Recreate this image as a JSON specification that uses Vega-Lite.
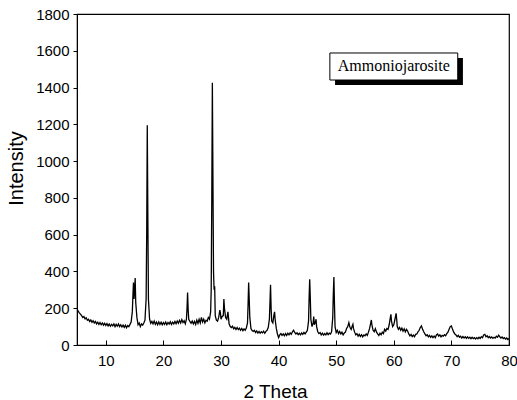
{
  "$schema": "https://vega.github.io/schema/vega-lite/v6.json",
  "autosize": {"type": "none"},
  "padding": {"left": 77, "top": 14, "right": 8, "bottom": 55},
  "width": 432,
  "height": 331,
  "background": "white",
  "config": {
    "view": {"stroke": "black", "strokeWidth": 1.2},
    "axis": {"domainColor": "black", "tickColor": "black", "labelColor": "black", "titleColor": "black", "labelFont": "Liberation Sans", "titleFont": "Liberation Sans", "grid": false, "labelFontSize": 15, "titleFontWeight": "normal", "titleFontSize": 19, "labelOverlap": false, "labelFlush": false, "labelBound": false},
    "axisX": {"tickCount": 8, "tickSize": -5, "labelPadding": 13, "format": "d", "titleX": 198, "titleY": 52, "titleBaseline": "alphabetic", "titleAnchor": "middle"},
    "axisY": {"tickCount": 9, "tickSize": 4, "labelPadding": 4, "format": "d", "titleX": -55, "titleY": 154, "titleBaseline": "alphabetic", "titleAnchor": "middle", "titleFontSize": 20, "labelOverlap": false}
  },
  "datasets": {
    "xrd": [
      {"t":5.0,"i":195},{"t":5.2,"i":185},{"t":5.4,"i":175},{"t":5.6,"i":168},{"t":5.8,"i":160},{"t":6.0,"i":150},{"t":6.2,"i":155},{"t":6.4,"i":142},{"t":6.6,"i":148},{"t":6.8,"i":135},
      {"t":7.0,"i":140},{"t":7.2,"i":128},{"t":7.4,"i":136},{"t":7.6,"i":124},{"t":7.8,"i":132},{"t":8.0,"i":120},{"t":8.2,"i":128},{"t":8.4,"i":115},{"t":8.6,"i":124},{"t":8.8,"i":112},
      {"t":9.0,"i":122},{"t":9.2,"i":110},{"t":9.4,"i":120},{"t":9.6,"i":108},{"t":9.8,"i":118},{"t":10.0,"i":106},{"t":10.2,"i":116},{"t":10.4,"i":104},{"t":10.6,"i":114},{"t":10.8,"i":102},
      {"t":11.0,"i":112},{"t":11.2,"i":104},{"t":11.4,"i":115},{"t":11.6,"i":100},{"t":11.8,"i":112},{"t":12.0,"i":102},{"t":12.2,"i":114},{"t":12.4,"i":100},{"t":12.6,"i":110},{"t":12.8,"i":98},
      {"t":13.0,"i":108},{"t":13.2,"i":96},{"t":13.4,"i":108},{"t":13.6,"i":94},{"t":13.8,"i":106},{"t":14.0,"i":100},{"t":14.2,"i":112},{"t":14.4,"i":125},{"t":14.6,"i":180},{"t":14.7,"i":260},
      {"t":14.8,"i":340},{"t":14.9,"i":250},{"t":15.0,"i":300},{"t":15.1,"i":364},{"t":15.2,"i":230},{"t":15.4,"i":150},{"t":15.6,"i":110},{"t":15.8,"i":120},{"t":16.0,"i":100},{"t":16.2,"i":115},
      {"t":16.4,"i":108},{"t":16.6,"i":120},{"t":16.8,"i":135},{"t":17.0,"i":250},{"t":17.1,"i":600},{"t":17.2,"i":1195},{"t":17.3,"i":700},{"t":17.4,"i":250},{"t":17.6,"i":140},{"t":17.8,"i":118},
      {"t":18.0,"i":128},{"t":18.2,"i":115},{"t":18.4,"i":130},{"t":18.6,"i":112},{"t":18.8,"i":125},{"t":19.0,"i":110},{"t":19.2,"i":126},{"t":19.4,"i":112},{"t":19.6,"i":124},{"t":19.8,"i":110},
      {"t":20.0,"i":122},{"t":20.2,"i":112},{"t":20.4,"i":125},{"t":20.6,"i":110},{"t":20.8,"i":122},{"t":21.0,"i":114},{"t":21.2,"i":126},{"t":21.4,"i":112},{"t":21.6,"i":124},{"t":21.8,"i":115},
      {"t":22.0,"i":128},{"t":22.2,"i":116},{"t":22.4,"i":130},{"t":22.6,"i":118},{"t":22.8,"i":134},{"t":23.0,"i":120},{"t":23.2,"i":138},{"t":23.4,"i":122},{"t":23.6,"i":132},{"t":23.8,"i":115},
      {"t":24.0,"i":140},{"t":24.1,"i":200},{"t":24.2,"i":285},{"t":24.3,"i":190},{"t":24.4,"i":140},{"t":24.6,"i":128},{"t":24.8,"i":118},{"t":25.0,"i":130},{"t":25.2,"i":115},{"t":25.4,"i":128},
      {"t":25.6,"i":112},{"t":25.8,"i":135},{"t":26.0,"i":118},{"t":26.2,"i":140},{"t":26.4,"i":120},{"t":26.6,"i":150},{"t":26.8,"i":125},{"t":27.0,"i":140},{"t":27.2,"i":120},{"t":27.4,"i":135},
      {"t":27.6,"i":130},{"t":27.8,"i":150},{"t":28.0,"i":140},{"t":28.2,"i":180},{"t":28.3,"i":300},{"t":28.4,"i":800},{"t":28.5,"i":1426},{"t":28.6,"i":900},{"t":28.7,"i":400},{"t":28.8,"i":300},
      {"t":28.9,"i":320},{"t":29.0,"i":160},{"t":29.2,"i":135},{"t":29.4,"i":130},{"t":29.6,"i":150},{"t":29.8,"i":190},{"t":29.9,"i":175},{"t":30.0,"i":140},{"t":30.2,"i":155},{"t":30.4,"i":160},
      {"t":30.5,"i":250},{"t":30.6,"i":200},{"t":30.8,"i":150},{"t":31.0,"i":140},{"t":31.2,"i":180},{"t":31.3,"i":150},{"t":31.4,"i":115},{"t":31.6,"i":100},{"t":31.8,"i":95},{"t":32.0,"i":102},
      {"t":32.2,"i":88},{"t":32.4,"i":96},{"t":32.6,"i":85},{"t":32.8,"i":95},{"t":33.0,"i":84},{"t":33.2,"i":92},{"t":33.4,"i":80},{"t":33.6,"i":90},{"t":33.8,"i":78},{"t":34.0,"i":88},
      {"t":34.2,"i":80},{"t":34.4,"i":92},{"t":34.6,"i":120},{"t":34.7,"i":220},{"t":34.8,"i":340},{"t":34.9,"i":250},{"t":35.0,"i":150},{"t":35.2,"i":90},{"t":35.4,"i":78},{"t":35.6,"i":74},
      {"t":35.8,"i":80},{"t":36.0,"i":68},{"t":36.2,"i":76},{"t":36.4,"i":65},{"t":36.6,"i":74},{"t":36.8,"i":64},{"t":37.0,"i":72},{"t":37.2,"i":66},{"t":37.4,"i":75},{"t":37.6,"i":64},
      {"t":37.8,"i":74},{"t":38.0,"i":80},{"t":38.2,"i":95},{"t":38.4,"i":140},{"t":38.5,"i":230},{"t":38.6,"i":327},{"t":38.7,"i":200},{"t":38.8,"i":130},{"t":39.0,"i":120},{"t":39.2,"i":165},
      {"t":39.3,"i":180},{"t":39.4,"i":140},{"t":39.6,"i":90},{"t":39.8,"i":60},{"t":40.0,"i":40},{"t":40.2,"i":55},{"t":40.4,"i":62},{"t":40.6,"i":52},{"t":40.8,"i":60},{"t":41.0,"i":50},
      {"t":41.2,"i":62},{"t":41.4,"i":52},{"t":41.6,"i":64},{"t":41.8,"i":55},{"t":42.0,"i":66},{"t":42.2,"i":58},{"t":42.4,"i":72},{"t":42.6,"i":80},{"t":42.8,"i":68},{"t":43.0,"i":60},
      {"t":43.2,"i":66},{"t":43.4,"i":56},{"t":43.6,"i":64},{"t":43.8,"i":55},{"t":44.0,"i":66},{"t":44.2,"i":58},{"t":44.4,"i":68},{"t":44.6,"i":60},{"t":44.8,"i":70},{"t":45.0,"i":80},
      {"t":45.2,"i":130},{"t":45.3,"i":260},{"t":45.4,"i":358},{"t":45.5,"i":260},{"t":45.6,"i":140},{"t":45.8,"i":100},{"t":46.0,"i":120},{"t":46.1,"i":155},{"t":46.2,"i":110},{"t":46.4,"i":125},
      {"t":46.5,"i":140},{"t":46.6,"i":100},{"t":46.8,"i":72},{"t":47.0,"i":62},{"t":47.2,"i":68},{"t":47.4,"i":55},{"t":47.6,"i":64},{"t":47.8,"i":54},{"t":48.0,"i":62},{"t":48.2,"i":55},
      {"t":48.4,"i":66},{"t":48.6,"i":56},{"t":48.8,"i":64},{"t":49.0,"i":60},{"t":49.2,"i":72},{"t":49.4,"i":150},{"t":49.5,"i":280},{"t":49.6,"i":370},{"t":49.7,"i":220},{"t":49.8,"i":100},
      {"t":50.0,"i":68},{"t":50.2,"i":80},{"t":50.4,"i":62},{"t":50.6,"i":74},{"t":50.8,"i":60},{"t":51.0,"i":70},{"t":51.2,"i":55},{"t":51.4,"i":65},{"t":51.6,"i":70},{"t":51.8,"i":90},
      {"t":52.0,"i":100},{"t":52.2,"i":122},{"t":52.4,"i":95},{"t":52.6,"i":85},{"t":52.8,"i":105},{"t":52.9,"i":113},{"t":53.0,"i":90},{"t":53.2,"i":70},{"t":53.4,"i":55},{"t":53.6,"i":62},
      {"t":53.8,"i":48},{"t":54.0,"i":58},{"t":54.2,"i":46},{"t":54.4,"i":56},{"t":54.6,"i":44},{"t":54.8,"i":55},{"t":55.0,"i":50},{"t":55.2,"i":60},{"t":55.4,"i":52},{"t":55.6,"i":70},
      {"t":55.8,"i":90},{"t":56.0,"i":120},{"t":56.1,"i":136},{"t":56.2,"i":110},{"t":56.4,"i":80},{"t":56.6,"i":72},{"t":56.8,"i":89},{"t":57.0,"i":70},{"t":57.2,"i":60},{"t":57.4,"i":52},
      {"t":57.6,"i":64},{"t":57.8,"i":56},{"t":58.0,"i":70},{"t":58.2,"i":62},{"t":58.4,"i":85},{"t":58.6,"i":75},{"t":58.8,"i":90},{"t":59.0,"i":85},{"t":59.2,"i":110},{"t":59.4,"i":150},
      {"t":59.5,"i":167},{"t":59.6,"i":130},{"t":59.8,"i":100},{"t":60.0,"i":110},{"t":60.2,"i":140},{"t":60.4,"i":172},{"t":60.5,"i":140},{"t":60.6,"i":100},{"t":60.8,"i":85},{"t":61.0,"i":95},
      {"t":61.2,"i":80},{"t":61.4,"i":92},{"t":61.6,"i":75},{"t":61.8,"i":88},{"t":62.0,"i":72},{"t":62.2,"i":85},{"t":62.4,"i":76},{"t":62.6,"i":60},{"t":62.8,"i":50},{"t":63.0,"i":58},
      {"t":63.2,"i":46},{"t":63.4,"i":54},{"t":63.6,"i":45},{"t":63.8,"i":58},{"t":64.0,"i":60},{"t":64.2,"i":72},{"t":64.4,"i":80},{"t":64.6,"i":95},{"t":64.8,"i":104},{"t":65.0,"i":85},
      {"t":65.2,"i":72},{"t":65.4,"i":60},{"t":65.6,"i":50},{"t":65.8,"i":56},{"t":66.0,"i":44},{"t":66.2,"i":52},{"t":66.4,"i":42},{"t":66.6,"i":50},{"t":66.8,"i":40},{"t":67.0,"i":48},
      {"t":67.2,"i":40},{"t":67.4,"i":55},{"t":67.6,"i":60},{"t":67.8,"i":48},{"t":68.0,"i":55},{"t":68.2,"i":44},{"t":68.4,"i":52},{"t":68.6,"i":48},{"t":68.8,"i":56},{"t":69.0,"i":50},
      {"t":69.2,"i":62},{"t":69.4,"i":70},{"t":69.6,"i":85},{"t":69.8,"i":100},{"t":70.0,"i":104},{"t":70.2,"i":85},{"t":70.4,"i":70},{"t":70.6,"i":60},{"t":70.8,"i":55},{"t":71.0,"i":45},
      {"t":71.2,"i":52},{"t":71.4,"i":42},{"t":71.6,"i":48},{"t":71.8,"i":38},{"t":72.0,"i":46},{"t":72.2,"i":38},{"t":72.4,"i":45},{"t":72.6,"i":36},{"t":72.8,"i":44},{"t":73.0,"i":36},
      {"t":73.2,"i":42},{"t":73.4,"i":34},{"t":73.6,"i":42},{"t":73.8,"i":35},{"t":74.0,"i":40},{"t":74.2,"i":33},{"t":74.4,"i":40},{"t":74.6,"i":34},{"t":74.8,"i":42},{"t":75.0,"i":36},
      {"t":75.2,"i":45},{"t":75.4,"i":40},{"t":75.6,"i":55},{"t":75.8,"i":58},{"t":76.0,"i":45},{"t":76.2,"i":50},{"t":76.4,"i":40},{"t":76.6,"i":46},{"t":76.8,"i":38},{"t":77.0,"i":44},
      {"t":77.2,"i":36},{"t":77.4,"i":42},{"t":77.6,"i":38},{"t":77.8,"i":48},{"t":78.0,"i":42},{"t":78.2,"i":53},{"t":78.4,"i":45},{"t":78.6,"i":38},{"t":78.8,"i":44},{"t":79.0,"i":35},
      {"t":79.2,"i":40},{"t":79.4,"i":32},{"t":79.6,"i":38},{"t":79.8,"i":30},{"t":80.0,"i":35}
    ],
    "shadow": [
      {"t": 49.8, "t2": 72.0, "i": 1414, "i2": 1561}
    ],
    "box": [
      {"t": 48.9, "t2": 71.1, "i": 1441, "i2": 1588, "tc": 60.0, "ic": 1515, "label": "Ammoniojarosite"}
    ]
  },
  "layer": [
    {
      "data": {"name": "xrd"},
      "mark": {"type": "line", "color": "black", "strokeWidth": 1.3, "clip": true},
      "encoding": {
        "x": {"field": "t", "type": "quantitative", "scale": {"domain": [5, 80], "nice": false}, "axis": {"title": "2 Theta"}},
        "y": {"field": "i", "type": "quantitative", "scale": {"domain": [0, 1800], "nice": false}, "axis": {"title": "Intensity"}}
      }
    },
    {
      "data": {"name": "shadow"},
      "mark": {"type": "rect", "color": "black"},
      "encoding": {
        "x": {"field": "t", "type": "quantitative"},
        "x2": {"field": "t2"},
        "y": {"field": "i", "type": "quantitative"},
        "y2": {"field": "i2"}
      }
    },
    {
      "data": {"name": "box"},
      "mark": {"type": "rect", "fill": "white", "stroke": "black", "strokeWidth": 1},
      "encoding": {
        "x": {"field": "t", "type": "quantitative"},
        "x2": {"field": "t2"},
        "y": {"field": "i", "type": "quantitative"},
        "y2": {"field": "i2"}
      }
    },
    {
      "data": {"name": "box"},
      "mark": {"type": "text", "font": "Liberation Serif", "fontSize": 16, "color": "black", "align": "center", "baseline": "middle"},
      "encoding": {
        "x": {"field": "tc", "type": "quantitative"},
        "y": {"field": "ic", "type": "quantitative"},
        "text": {"field": "label"}
      }
    }
  ]
}
